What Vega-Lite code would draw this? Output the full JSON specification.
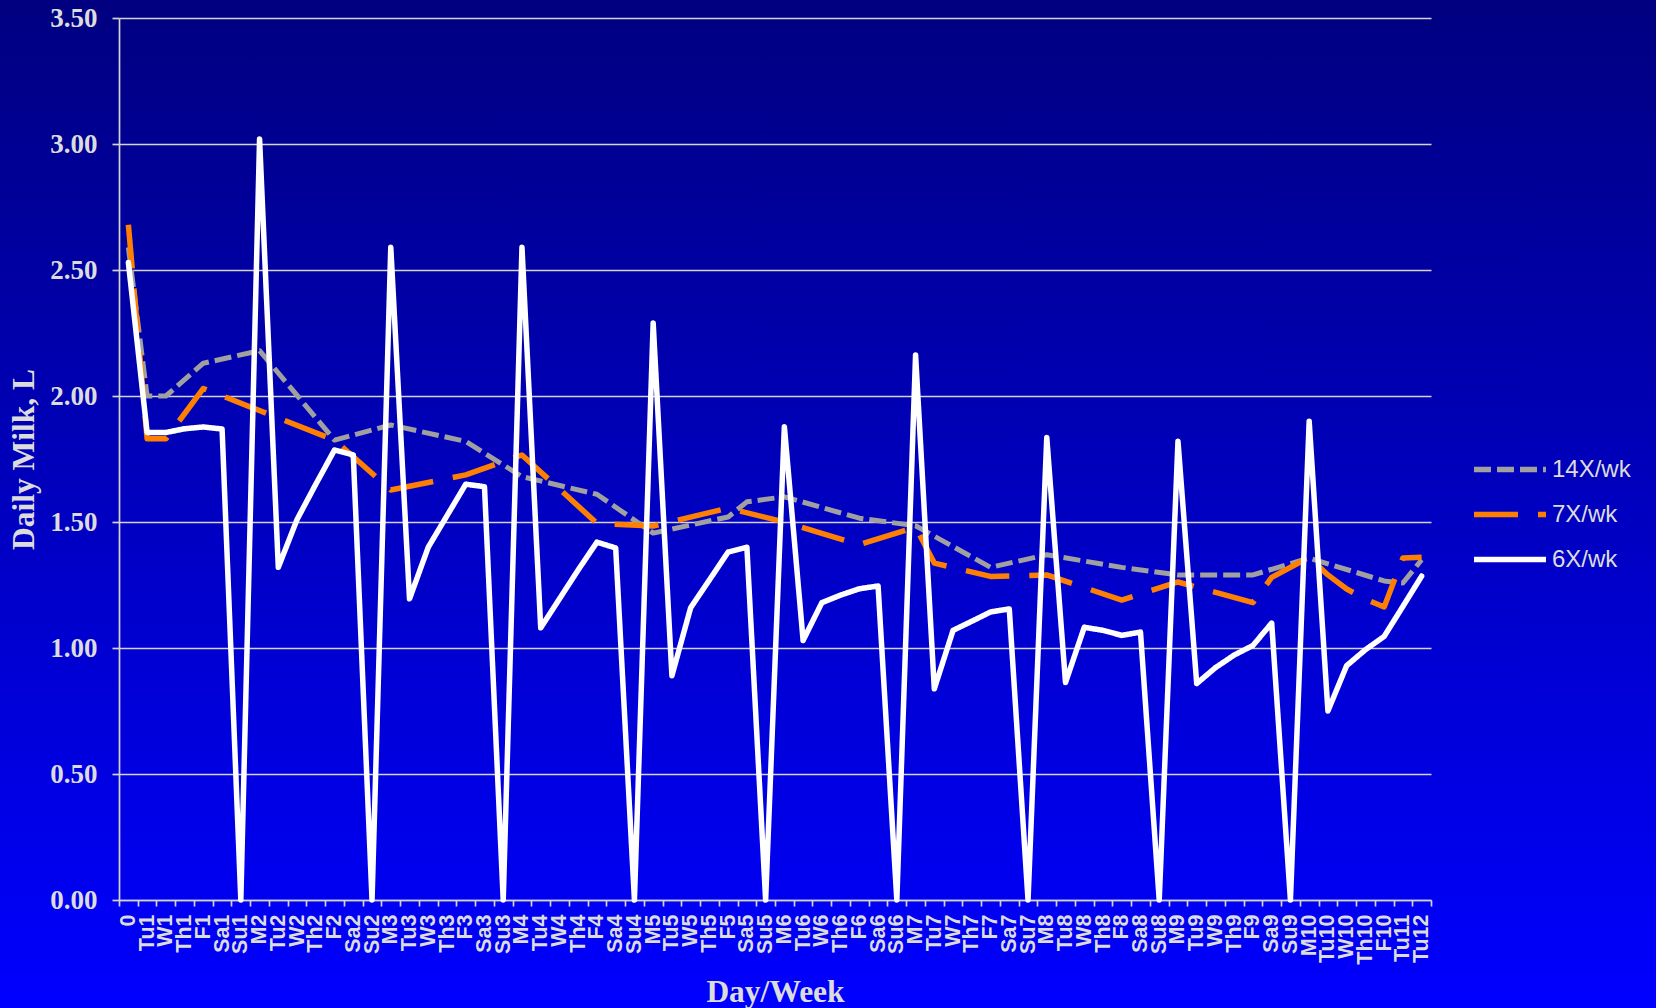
{
  "$schema": "https://vega.github.io/schema/vega-lite/v6.json",
  "width": 1656,
  "height": 1008,
  "autosize": {"type": "none"},
  "padding": 0,
  "background": "#0000b8",
  "config": {
    "view": {
      "stroke": null,
      "fill": {
        "gradient": "linear",
        "x1": 0, "y1": 0, "x2": 0, "y2": 1,
        "stops": [
          {"offset": 0, "color": "#000080"},
          {"offset": 1, "color": "#0000ff"}
        ]
      }
    },
    "font": "Liberation Sans"
  },
  "data": {
    "values": [
      {"day": "0", "series": "14X/wk", "milk": 2.59},
      {"day": "Tu1", "series": "14X/wk", "milk": 2.0},
      {"day": "W1", "series": "14X/wk", "milk": 2.0},
      {"day": "F1", "series": "14X/wk", "milk": 2.13},
      {"day": "M2", "series": "14X/wk", "milk": 2.18},
      {"day": "F2", "series": "14X/wk", "milk": 1.825},
      {"day": "M3", "series": "14X/wk", "milk": 1.885},
      {"day": "F3", "series": "14X/wk", "milk": 1.82},
      {"day": "M4", "series": "14X/wk", "milk": 1.68},
      {"day": "F4", "series": "14X/wk", "milk": 1.61},
      {"day": "M5", "series": "14X/wk", "milk": 1.456},
      {"day": "F5", "series": "14X/wk", "milk": 1.52},
      {"day": "Sa5", "series": "14X/wk", "milk": 1.58},
      {"day": "M6", "series": "14X/wk", "milk": 1.6},
      {"day": "F6", "series": "14X/wk", "milk": 1.515},
      {"day": "M7", "series": "14X/wk", "milk": 1.485},
      {"day": "F7", "series": "14X/wk", "milk": 1.32},
      {"day": "M8", "series": "14X/wk", "milk": 1.37},
      {"day": "F8", "series": "14X/wk", "milk": 1.32},
      {"day": "M9", "series": "14X/wk", "milk": 1.29},
      {"day": "F9", "series": "14X/wk", "milk": 1.29},
      {"day": "M10", "series": "14X/wk", "milk": 1.357},
      {"day": "F10", "series": "14X/wk", "milk": 1.266},
      {"day": "Tu11", "series": "14X/wk", "milk": 1.258},
      {"day": "Tu12", "series": "14X/wk", "milk": 1.35},

      {"day": "0", "series": "7X/wk", "milk": 2.68},
      {"day": "Tu1", "series": "7X/wk", "milk": 1.83},
      {"day": "W1", "series": "7X/wk", "milk": 1.83},
      {"day": "F1", "series": "7X/wk", "milk": 2.03},
      {"day": "F2", "series": "7X/wk", "milk": 1.825},
      {"day": "M3", "series": "7X/wk", "milk": 1.627},
      {"day": "F3", "series": "7X/wk", "milk": 1.687},
      {"day": "M4", "series": "7X/wk", "milk": 1.766},
      {"day": "F4", "series": "7X/wk", "milk": 1.495},
      {"day": "M5", "series": "7X/wk", "milk": 1.484},
      {"day": "F5", "series": "7X/wk", "milk": 1.555},
      {"day": "M6", "series": "7X/wk", "milk": 1.5},
      {"day": "F6", "series": "7X/wk", "milk": 1.41},
      {"day": "M7", "series": "7X/wk", "milk": 1.48},
      {"day": "Tu7", "series": "7X/wk", "milk": 1.337},
      {"day": "F7", "series": "7X/wk", "milk": 1.284},
      {"day": "M8", "series": "7X/wk", "milk": 1.29},
      {"day": "F8", "series": "7X/wk", "milk": 1.19},
      {"day": "M9", "series": "7X/wk", "milk": 1.262},
      {"day": "F9", "series": "7X/wk", "milk": 1.18},
      {"day": "Sa9", "series": "7X/wk", "milk": 1.28},
      {"day": "M10", "series": "7X/wk", "milk": 1.36},
      {"day": "Tu10", "series": "7X/wk", "milk": 1.29},
      {"day": "W10", "series": "7X/wk", "milk": 1.234},
      {"day": "Th10", "series": "7X/wk", "milk": 1.194},
      {"day": "F10", "series": "7X/wk", "milk": 1.163},
      {"day": "Tu11", "series": "7X/wk", "milk": 1.357},
      {"day": "Tu12", "series": "7X/wk", "milk": 1.36},

      {"day": "0", "series": "6X/wk", "milk": 2.53},
      {"day": "Tu1", "series": "6X/wk", "milk": 1.855},
      {"day": "W1", "series": "6X/wk", "milk": 1.855},
      {"day": "Th1", "series": "6X/wk", "milk": 1.87},
      {"day": "F1", "series": "6X/wk", "milk": 1.877},
      {"day": "Sa1", "series": "6X/wk", "milk": 1.869},
      {"day": "Su1", "series": "6X/wk", "milk": 0},
      {"day": "M2", "series": "6X/wk", "milk": 3.02},
      {"day": "Tu2", "series": "6X/wk", "milk": 1.32},
      {"day": "W2", "series": "6X/wk", "milk": 1.51},
      {"day": "Th2", "series": "6X/wk", "milk": 1.65},
      {"day": "F2", "series": "6X/wk", "milk": 1.786},
      {"day": "Sa2", "series": "6X/wk", "milk": 1.766},
      {"day": "Su2", "series": "6X/wk", "milk": 0},
      {"day": "M3", "series": "6X/wk", "milk": 2.59},
      {"day": "Tu3", "series": "6X/wk", "milk": 1.195},
      {"day": "W3", "series": "6X/wk", "milk": 1.4},
      {"day": "Th3", "series": "6X/wk", "milk": 1.525},
      {"day": "F3", "series": "6X/wk", "milk": 1.65},
      {"day": "Sa3", "series": "6X/wk", "milk": 1.64},
      {"day": "Su3", "series": "6X/wk", "milk": 0},
      {"day": "M4", "series": "6X/wk", "milk": 2.59},
      {"day": "Tu4", "series": "6X/wk", "milk": 1.08},
      {"day": "W4", "series": "6X/wk", "milk": 1.195},
      {"day": "Th4", "series": "6X/wk", "milk": 1.31},
      {"day": "F4", "series": "6X/wk", "milk": 1.42},
      {"day": "Sa4", "series": "6X/wk", "milk": 1.397},
      {"day": "Su4", "series": "6X/wk", "milk": 0},
      {"day": "M5", "series": "6X/wk", "milk": 2.29},
      {"day": "Tu5", "series": "6X/wk", "milk": 0.89},
      {"day": "W5", "series": "6X/wk", "milk": 1.16},
      {"day": "Th5", "series": "6X/wk", "milk": 1.27},
      {"day": "F5", "series": "6X/wk", "milk": 1.381},
      {"day": "Sa5", "series": "6X/wk", "milk": 1.4},
      {"day": "Su5", "series": "6X/wk", "milk": 0},
      {"day": "M6", "series": "6X/wk", "milk": 1.878},
      {"day": "Tu6", "series": "6X/wk", "milk": 1.03},
      {"day": "W6", "series": "6X/wk", "milk": 1.18},
      {"day": "Th6", "series": "6X/wk", "milk": 1.21},
      {"day": "F6", "series": "6X/wk", "milk": 1.235},
      {"day": "Sa6", "series": "6X/wk", "milk": 1.246},
      {"day": "Su6", "series": "6X/wk", "milk": 0},
      {"day": "M7", "series": "6X/wk", "milk": 2.163},
      {"day": "Tu7", "series": "6X/wk", "milk": 0.838},
      {"day": "W7", "series": "6X/wk", "milk": 1.07},
      {"day": "Th7", "series": "6X/wk", "milk": 1.106},
      {"day": "F7", "series": "6X/wk", "milk": 1.143},
      {"day": "Sa7", "series": "6X/wk", "milk": 1.155},
      {"day": "Su7", "series": "6X/wk", "milk": 0},
      {"day": "M8", "series": "6X/wk", "milk": 1.835},
      {"day": "Tu8", "series": "6X/wk", "milk": 0.863},
      {"day": "W8", "series": "6X/wk", "milk": 1.082},
      {"day": "Th8", "series": "6X/wk", "milk": 1.07},
      {"day": "F8", "series": "6X/wk", "milk": 1.05},
      {"day": "Sa8", "series": "6X/wk", "milk": 1.063},
      {"day": "Su8", "series": "6X/wk", "milk": 0},
      {"day": "M9", "series": "6X/wk", "milk": 1.82},
      {"day": "Tu9", "series": "6X/wk", "milk": 0.859},
      {"day": "W9", "series": "6X/wk", "milk": 0.922},
      {"day": "Th9", "series": "6X/wk", "milk": 0.972},
      {"day": "F9", "series": "6X/wk", "milk": 1.01},
      {"day": "Sa9", "series": "6X/wk", "milk": 1.099},
      {"day": "Su9", "series": "6X/wk", "milk": 0},
      {"day": "M10", "series": "6X/wk", "milk": 1.9},
      {"day": "Tu10", "series": "6X/wk", "milk": 0.75},
      {"day": "W10", "series": "6X/wk", "milk": 0.93},
      {"day": "Th10", "series": "6X/wk", "milk": 0.993},
      {"day": "F10", "series": "6X/wk", "milk": 1.046},
      {"day": "Tu11", "series": "6X/wk", "milk": 1.165},
      {"day": "Tu12", "series": "6X/wk", "milk": 1.285}
    ]
  },
  "encoding": {
    "x": {
      "field": "day",
      "type": "ordinal",
      "bandPosition": 0.5,
      "scale": {
        "type": "band",
        "domain": ["0","Tu1","W1","Th1","F1","Sa1","Su1",
                   "M2","Tu2","W2","Th2","F2","Sa2","Su2",
                   "M3","Tu3","W3","Th3","F3","Sa3","Su3",
                   "M4","Tu4","W4","Th4","F4","Sa4","Su4",
                   "M5","Tu5","W5","Th5","F5","Sa5","Su5",
                   "M6","Tu6","W6","Th6","F6","Sa6","Su6",
                   "M7","Tu7","W7","Th7","F7","Sa7","Su7",
                   "M8","Tu8","W8","Th8","F8","Sa8","Su8",
                   "M9","Tu9","W9","Th9","F9","Sa9","Su9",
                   "M10","Tu10","W10","Th10","F10","Tu11","Tu12"],
        "range": [119, 1431],
        "paddingInner": 0,
        "paddingOuter": 0
      },
      "axis": {
        "orient": "bottom",
        "offset": -108,
        "title": "Day/Week",
        "grid": false,
        "labelAngle": 270,
        "labelFont": "Liberation Sans",
        "labelFontSize": 21.5,
        "labelFontWeight": "bold",
        "labelColor": "#dcdcdc",
        "labelPadding": 8,
        "labelOverlap": false,
        "labelBound": false,
        "labelFlush": false,
        "tickBand": "extent",
        "tickSize": 6,
        "tickColor": "#d4d4d8",
        "tickWidth": 1.7,
        "domainColor": "#d4d4d8",
        "domainWidth": 1.7,
        "titleFont": "Liberation Serif",
        "titleFontSize": 31.5,
        "titleFontWeight": "bold",
        "titleColor": "#dcdcdc",
        "titleBaseline": "alphabetic",
        "titleAlign": "center",
        "titleX": 775,
        "titleY": 101
      }
    },
    "y": {
      "field": "milk",
      "type": "quantitative",
      "scale": {"domain": [0, 3.5], "range": [900, 18], "nice": false, "zero": true},
      "axis": {
        "orient": "left",
        "offset": -119,
        "title": "Daily Milk, L",
        "values": [0, 0.5, 1, 1.5, 2, 2.5, 3, 3.5],
        "format": ".2f",
        "labelFont": "Liberation Serif",
        "labelFontSize": 27,
        "labelFontWeight": "bold",
        "labelColor": "#dcdcdc",
        "labelPadding": 15,
        "labelFlush": false,
        "labelOverlap": false,
        "tickSize": 7,
        "tickColor": "#d4d4d8",
        "tickWidth": 1.7,
        "domainColor": "#d4d4d8",
        "domainWidth": 1.7,
        "grid": true,
        "gridColor": "#d4d4d8",
        "gridWidth": 1.7,
        "titleFont": "Liberation Serif",
        "titleFontSize": 31.5,
        "titleFontWeight": "bold",
        "titleColor": "#dcdcdc",
        "titleAngle": 270,
        "titleBaseline": "alphabetic",
        "titleAlign": "center",
        "titleX": -86,
        "titleY": 459
      }
    },
    "color": {
      "field": "series",
      "type": "nominal",
      "scale": {
        "domain": ["14X/wk", "7X/wk", "6X/wk"],
        "range": ["#a0a0a0", "#ff8000", "#ffffff"]
      },
      "legend": {
        "orient": "none",
        "legendX": 1471,
        "legendY": 447,
        "title": null,
        "padding": 0,
        "symbolType": "stroke",
        "symbolSize": 5184,
        "symbolStrokeWidth": 5.5,
        "labelFont": "Liberation Sans",
        "labelFontSize": 24,
        "labelColor": "#dcdcdc",
        "labelOffset": 3,
        "clipHeight": 45,
        "rowPadding": 0
      }
    },
    "strokeDash": {
      "field": "series",
      "type": "nominal",
      "scale": {
        "domain": ["14X/wk", "7X/wk", "6X/wk"],
        "range": [[17, 6], [44, 20], [1, 0]]
      }
    }
  },
  "layer": [
    {
      "transform": [{"filter": "datum.series === '14X/wk'"}],
      "mark": {"type": "line", "strokeWidth": 5, "strokeCap": "butt", "strokeJoin": "round"}
    },
    {
      "transform": [{"filter": "datum.series === '7X/wk'"}],
      "mark": {"type": "line", "strokeWidth": 5.5, "strokeCap": "butt", "strokeJoin": "round"}
    },
    {
      "transform": [{"filter": "datum.series === '6X/wk'"}],
      "mark": {"type": "line", "strokeWidth": 5.5, "strokeCap": "round", "strokeJoin": "round"}
    }
  ]
}
